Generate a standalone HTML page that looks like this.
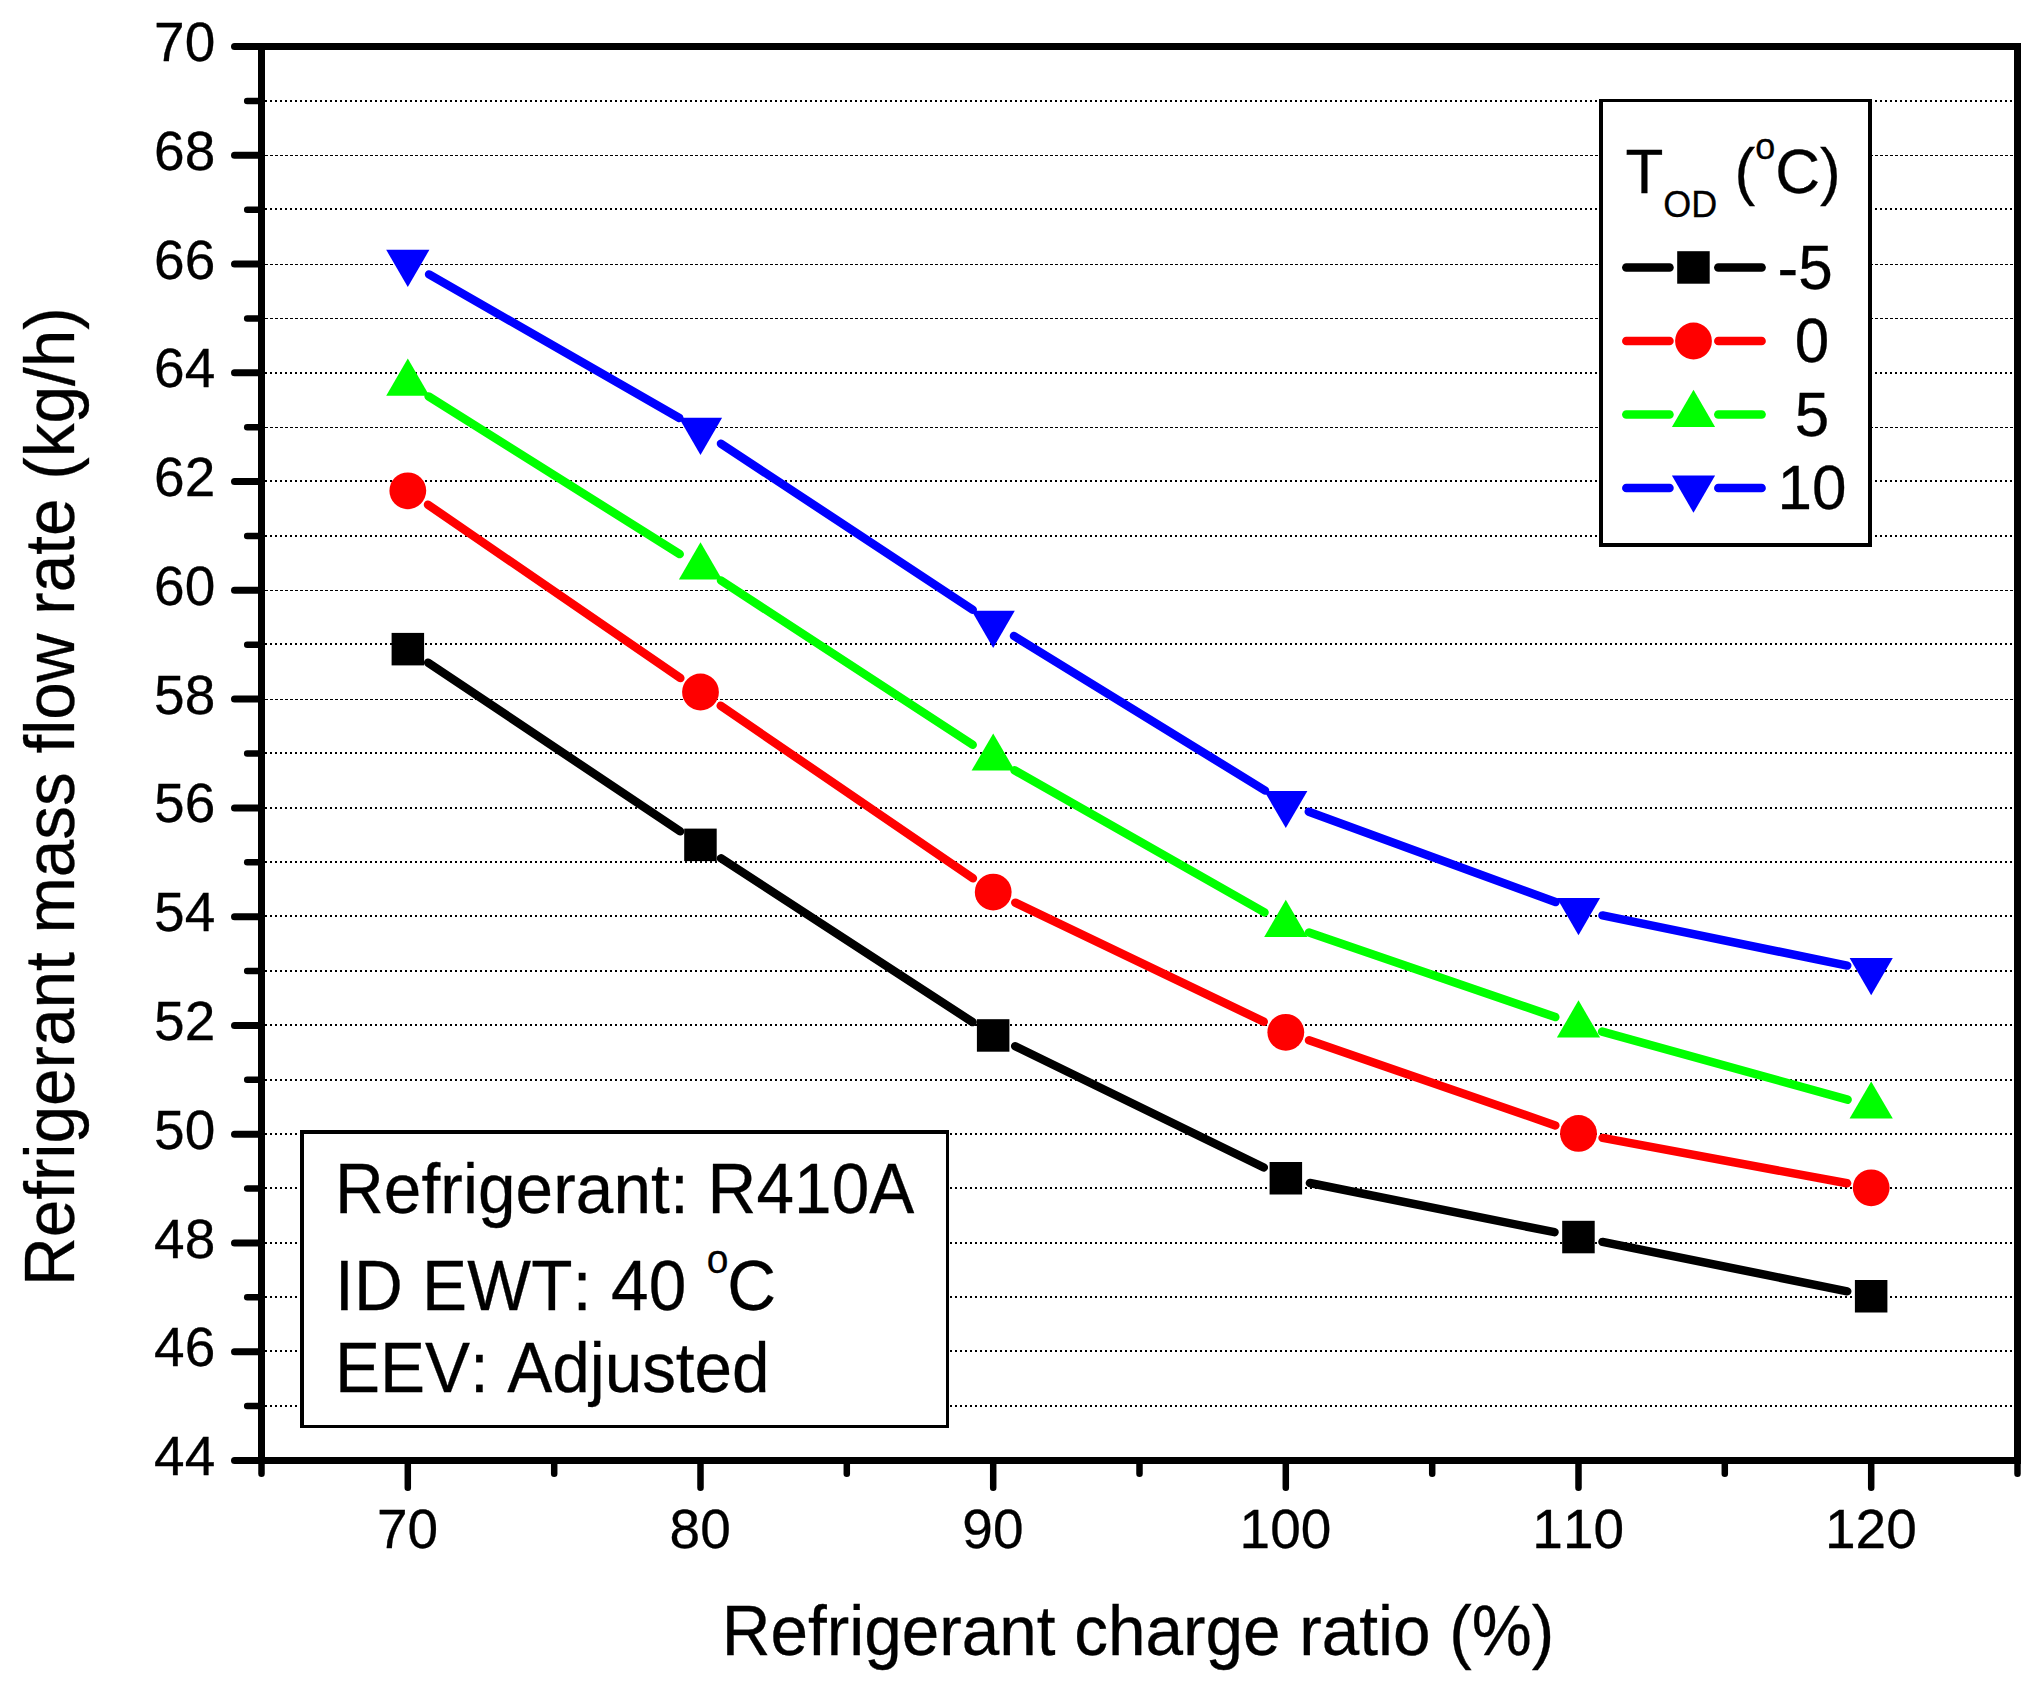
<!DOCTYPE html>
<html lang="en"><head><meta charset="utf-8">
<title>Refrigerant mass flow rate vs refrigerant charge ratio</title>
<style>
html,body{margin:0;padding:0;background:#fff;}
body{width:2041px;height:1688px;overflow:hidden;}
svg{display:block;}
text{font-family:"Liberation Sans", sans-serif;fill:#000;font-kerning:none;stroke:#000;stroke-width:0.3px;}
.tick{font-size:55px;}
.title{font-size:67.5px;letter-spacing:0;}
.box{font-size:67.5px;letter-spacing:0.1px;}
.leg{font-size:62px;}
.sub{font-size:36px;}
.sub2{font-size:39px;}
</style></head><body>
<svg width="2041" height="1688" viewBox="0 0 2041 1688">
<rect x="0" y="0" width="2041" height="1688" fill="#fff"/>
<g stroke="#000" fill="none" shape-rendering="crispEdges">
<line x1="265" x2="2014" y1="1406" y2="1406" stroke-width="2" stroke-dasharray="2.4 2.6"/>
<line x1="265" x2="2014" y1="1351" y2="1351" stroke-width="2" stroke-dasharray="2.4 2.6"/>
<line x1="265" x2="2014" y1="1297" y2="1297" stroke-width="2" stroke-dasharray="2.4 2.6"/>
<line x1="265" x2="2014" y1="1243" y2="1243" stroke-width="2" stroke-dasharray="2.4 2.6"/>
<line x1="265" x2="2014" y1="1188" y2="1188" stroke-width="2" stroke-dasharray="2.4 2.6"/>
<line x1="265" x2="2014" y1="1134" y2="1134" stroke-width="2" stroke-dasharray="2.4 2.6"/>
<line x1="265" x2="2014" y1="1080" y2="1080" stroke-width="2" stroke-dasharray="2.4 2.6"/>
<line x1="265" x2="2014" y1="1025" y2="1025" stroke-width="2" stroke-dasharray="2.4 2.6"/>
<line x1="265" x2="2014" y1="971" y2="971" stroke-width="2" stroke-dasharray="2.4 2.6"/>
<line x1="265" x2="2014" y1="916" y2="916" stroke-width="2" stroke-dasharray="2.4 2.6"/>
<line x1="265" x2="2014" y1="862" y2="862" stroke-width="2" stroke-dasharray="2.4 2.6"/>
<line x1="265" x2="2014" y1="808" y2="808" stroke-width="2" stroke-dasharray="2.4 2.6"/>
<line x1="265" x2="2014" y1="753" y2="753" stroke-width="2" stroke-dasharray="2.4 2.6"/>
<line x1="265" x2="2014" y1="699.5" y2="699.5" stroke-width="1" stroke-dasharray="2.8 2.2"/>
<line x1="265" x2="2014" y1="644" y2="644" stroke-width="2" stroke-dasharray="2.4 2.6"/>
<line x1="265" x2="2014" y1="590.5" y2="590.5" stroke-width="1" stroke-dasharray="2.8 2.2"/>
<line x1="265" x2="2014" y1="536" y2="536" stroke-width="2" stroke-dasharray="2.4 2.6"/>
<line x1="265" x2="2014" y1="481" y2="481" stroke-width="2" stroke-dasharray="2.4 2.6"/>
<line x1="265" x2="2014" y1="427.5" y2="427.5" stroke-width="1" stroke-dasharray="2.8 2.2"/>
<line x1="265" x2="2014" y1="373" y2="373" stroke-width="2" stroke-dasharray="2.4 2.6"/>
<line x1="265" x2="2014" y1="318.5" y2="318.5" stroke-width="1" stroke-dasharray="2.8 2.2"/>
<line x1="265" x2="2014" y1="264.5" y2="264.5" stroke-width="1" stroke-dasharray="2.8 2.2"/>
<line x1="265" x2="2014" y1="209" y2="209" stroke-width="2" stroke-dasharray="2.4 2.6"/>
<line x1="265" x2="2014" y1="155.5" y2="155.5" stroke-width="1" stroke-dasharray="2.8 2.2"/>
<line x1="265" x2="2014" y1="101" y2="101" stroke-width="2" stroke-dasharray="2.4 2.6"/>
</g>
<g stroke="#000000" stroke-width="8.5" stroke-linecap="round" fill="none">
<line x1="428.2" y1="662.7" x2="680.1" y2="831.3"/>
<line x1="721.0" y1="858.3" x2="972.6" y2="1022.1"/>
<line x1="1015.2" y1="1046.2" x2="1263.8" y2="1167.5"/>
<line x1="1309.9" y1="1183.0" x2="1554.5" y2="1232.2"/>
<line x1="1602.5" y1="1241.9" x2="1847.2" y2="1291.3"/>
</g>
<g>
<rect x="391.6" y="632.9" width="32.5" height="32.5" fill="#000000"/>
<rect x="684.2" y="828.6" width="32.5" height="32.5" fill="#000000"/>
<rect x="976.9" y="1019.2" width="32.5" height="32.5" fill="#000000"/>
<rect x="1269.6" y="1162.0" width="32.5" height="32.5" fill="#000000"/>
<rect x="1562.2" y="1220.8" width="32.5" height="32.5" fill="#000000"/>
<rect x="1854.9" y="1280.0" width="32.5" height="32.5" fill="#000000"/>
</g>
<g stroke="#ff0000" stroke-width="8.5" stroke-linecap="round" fill="none">
<line x1="428.0" y1="504.7" x2="680.3" y2="678.1"/>
<line x1="720.7" y1="705.8" x2="972.9" y2="878.3"/>
<line x1="1015.3" y1="902.7" x2="1263.7" y2="1021.7"/>
<line x1="1309.0" y1="1040.3" x2="1555.3" y2="1125.4"/>
<line x1="1602.6" y1="1137.9" x2="1847.1" y2="1183.3"/>
</g>
<g>
<circle cx="407.8" cy="490.8" r="18.4" fill="#ff0000"/>
<circle cx="700.5" cy="692.0" r="18.4" fill="#ff0000"/>
<circle cx="993.2" cy="892.1" r="18.4" fill="#ff0000"/>
<circle cx="1285.8" cy="1032.3" r="18.4" fill="#ff0000"/>
<circle cx="1578.5" cy="1133.4" r="18.4" fill="#ff0000"/>
<circle cx="1871.2" cy="1187.8" r="18.4" fill="#ff0000"/>
</g>
<g stroke="#00ff00" stroke-width="8.5" stroke-linecap="round" fill="none">
<line x1="428.6" y1="396.4" x2="679.7" y2="554.1"/>
<line x1="721.0" y1="580.5" x2="972.7" y2="744.8"/>
<line x1="1014.5" y1="770.3" x2="1264.5" y2="912.4"/>
<line x1="1309.0" y1="932.5" x2="1555.3" y2="1017.1"/>
<line x1="1602.1" y1="1031.6" x2="1847.6" y2="1099.7"/>
</g>
<g>
<polygon points="407.8,358.6 429.4,395.8 386.2,395.8" fill="#00ff00"/>
<polygon points="700.5,542.3 722.1,579.5 678.9,579.5" fill="#00ff00"/>
<polygon points="993.2,733.4 1014.8,770.6 971.6,770.6" fill="#00ff00"/>
<polygon points="1285.8,899.7 1307.4,936.9 1264.2,936.9" fill="#00ff00"/>
<polygon points="1578.5,1000.3 1600.1,1037.5 1556.9,1037.5" fill="#00ff00"/>
<polygon points="1871.2,1081.4 1892.8,1118.6 1849.6,1118.6" fill="#00ff00"/>
</g>
<g stroke="#0000ff" stroke-width="8.5" stroke-linecap="round" fill="none">
<line x1="429.1" y1="274.4" x2="679.3" y2="418.0"/>
<line x1="721.0" y1="443.7" x2="972.7" y2="609.7"/>
<line x1="1014.0" y1="636.0" x2="1265.0" y2="790.5"/>
<line x1="1308.8" y1="811.7" x2="1555.5" y2="902.1"/>
<line x1="1602.5" y1="915.4" x2="1847.2" y2="965.6"/>
</g>
<g>
<polygon points="386.2,249.8 429.4,249.8 407.8,287.0" fill="#0000ff"/>
<polygon points="678.9,417.8 722.1,417.8 700.5,455.0" fill="#0000ff"/>
<polygon points="971.6,610.8 1014.8,610.8 993.2,648.0" fill="#0000ff"/>
<polygon points="1264.2,790.9 1307.4,790.9 1285.8,828.1" fill="#0000ff"/>
<polygon points="1556.9,898.1 1600.1,898.1 1578.5,935.3" fill="#0000ff"/>
<polygon points="1849.6,958.1 1892.8,958.1 1871.2,995.3" fill="#0000ff"/>
</g>
<g stroke="#000" fill="none" stroke-linecap="butt" shape-rendering="crispEdges">
<line x1="258.0" x2="2021.0" y1="46.5" y2="46.5" stroke-width="7"/>
<line x1="258.0" x2="2021.0" y1="1460.5" y2="1460.5" stroke-width="7"/>
<line x1="261.5" x2="261.5" y1="43.0" y2="1464.0" stroke-width="7"/>
<line x1="2017.5" x2="2017.5" y1="43.0" y2="1464.0" stroke-width="7"/>
</g>
<g stroke="#000" fill="none" stroke-linecap="round">
<line x1="234.5" x2="259.0" y1="1460.5" y2="1460.5" stroke-width="7"/>
<line x1="247.2" x2="259.0" y1="1406.1" y2="1406.1" stroke-width="6.5"/>
<line x1="234.5" x2="259.0" y1="1351.7" y2="1351.7" stroke-width="7"/>
<line x1="247.2" x2="259.0" y1="1297.3" y2="1297.3" stroke-width="6.5"/>
<line x1="234.5" x2="259.0" y1="1243.0" y2="1243.0" stroke-width="7"/>
<line x1="247.2" x2="259.0" y1="1188.6" y2="1188.6" stroke-width="6.5"/>
<line x1="234.5" x2="259.0" y1="1134.2" y2="1134.2" stroke-width="7"/>
<line x1="247.2" x2="259.0" y1="1079.8" y2="1079.8" stroke-width="6.5"/>
<line x1="234.5" x2="259.0" y1="1025.4" y2="1025.4" stroke-width="7"/>
<line x1="247.2" x2="259.0" y1="971.0" y2="971.0" stroke-width="6.5"/>
<line x1="234.5" x2="259.0" y1="916.7" y2="916.7" stroke-width="7"/>
<line x1="247.2" x2="259.0" y1="862.3" y2="862.3" stroke-width="6.5"/>
<line x1="234.5" x2="259.0" y1="807.9" y2="807.9" stroke-width="7"/>
<line x1="247.2" x2="259.0" y1="753.5" y2="753.5" stroke-width="6.5"/>
<line x1="234.5" x2="259.0" y1="699.1" y2="699.1" stroke-width="7"/>
<line x1="247.2" x2="259.0" y1="644.7" y2="644.7" stroke-width="6.5"/>
<line x1="234.5" x2="259.0" y1="590.3" y2="590.3" stroke-width="7"/>
<line x1="247.2" x2="259.0" y1="536.0" y2="536.0" stroke-width="6.5"/>
<line x1="234.5" x2="259.0" y1="481.6" y2="481.6" stroke-width="7"/>
<line x1="247.2" x2="259.0" y1="427.2" y2="427.2" stroke-width="6.5"/>
<line x1="234.5" x2="259.0" y1="372.8" y2="372.8" stroke-width="7"/>
<line x1="247.2" x2="259.0" y1="318.4" y2="318.4" stroke-width="6.5"/>
<line x1="234.5" x2="259.0" y1="264.0" y2="264.0" stroke-width="7"/>
<line x1="247.2" x2="259.0" y1="209.7" y2="209.7" stroke-width="6.5"/>
<line x1="234.5" x2="259.0" y1="155.3" y2="155.3" stroke-width="7"/>
<line x1="247.2" x2="259.0" y1="100.9" y2="100.9" stroke-width="6.5"/>
<line x1="234.5" x2="259.0" y1="46.5" y2="46.5" stroke-width="7"/>
<line x1="261.5" x2="261.5" y1="1463.0" y2="1473.7" stroke-width="6.5"/>
<line x1="407.8" x2="407.8" y1="1463.0" y2="1487.7" stroke-width="6.5"/>
<line x1="554.2" x2="554.2" y1="1463.0" y2="1473.7" stroke-width="6.5"/>
<line x1="700.5" x2="700.5" y1="1463.0" y2="1487.7" stroke-width="6.5"/>
<line x1="846.8" x2="846.8" y1="1463.0" y2="1473.7" stroke-width="6.5"/>
<line x1="993.2" x2="993.2" y1="1463.0" y2="1487.7" stroke-width="6.5"/>
<line x1="1139.5" x2="1139.5" y1="1463.0" y2="1473.7" stroke-width="6.5"/>
<line x1="1285.8" x2="1285.8" y1="1463.0" y2="1487.7" stroke-width="6.5"/>
<line x1="1432.2" x2="1432.2" y1="1463.0" y2="1473.7" stroke-width="6.5"/>
<line x1="1578.5" x2="1578.5" y1="1463.0" y2="1487.7" stroke-width="6.5"/>
<line x1="1724.8" x2="1724.8" y1="1463.0" y2="1473.7" stroke-width="6.5"/>
<line x1="1871.2" x2="1871.2" y1="1463.0" y2="1487.7" stroke-width="6.5"/>
<line x1="2017.5" x2="2017.5" y1="1463.0" y2="1473.7" stroke-width="6.5"/>
</g>
<text class="tick" text-anchor="end" transform="translate(215.3 1475.0) scale(1 1.025)">44</text>
<text class="tick" text-anchor="end" transform="translate(215.3 1366.2) scale(1 1.025)">46</text>
<text class="tick" text-anchor="end" transform="translate(215.3 1257.5) scale(1 1.025)">48</text>
<text class="tick" text-anchor="end" transform="translate(215.3 1148.7) scale(1 1.025)">50</text>
<text class="tick" text-anchor="end" transform="translate(215.3 1039.9) scale(1 1.025)">52</text>
<text class="tick" text-anchor="end" transform="translate(215.3 931.2) scale(1 1.025)">54</text>
<text class="tick" text-anchor="end" transform="translate(215.3 822.4) scale(1 1.025)">56</text>
<text class="tick" text-anchor="end" transform="translate(215.3 713.6) scale(1 1.025)">58</text>
<text class="tick" text-anchor="end" transform="translate(215.3 604.8) scale(1 1.025)">60</text>
<text class="tick" text-anchor="end" transform="translate(215.3 496.1) scale(1 1.025)">62</text>
<text class="tick" text-anchor="end" transform="translate(215.3 387.3) scale(1 1.025)">64</text>
<text class="tick" text-anchor="end" transform="translate(215.3 278.5) scale(1 1.025)">66</text>
<text class="tick" text-anchor="end" transform="translate(215.3 169.8) scale(1 1.025)">68</text>
<text class="tick" text-anchor="end" transform="translate(215.3 61.0) scale(1 1.025)">70</text>
<text class="tick" text-anchor="middle" transform="translate(407.5 1548.3) scale(1 1.025)">70</text>
<text class="tick" text-anchor="middle" transform="translate(700.2 1548.3) scale(1 1.025)">80</text>
<text class="tick" text-anchor="middle" transform="translate(992.9 1548.3) scale(1 1.025)">90</text>
<text class="tick" text-anchor="middle" transform="translate(1285.5 1548.3) scale(1 1.025)">100</text>
<text class="tick" text-anchor="middle" transform="translate(1578.2 1548.3) scale(1 1.025)">110</text>
<text class="tick" text-anchor="middle" transform="translate(1870.9 1548.3) scale(1 1.025)">120</text>
<text class="title" transform="translate(721.7 1654.8) scale(1 1.030)">Refrigerant charge ratio (%)</text>
<text class="title" transform="translate(74.0 1286.0) rotate(-90) scale(1 1.030)">Refrigerant mass flow rate (kg/h)</text>
<g shape-rendering="crispEdges">
<rect x="300" y="1130" width="649" height="298" fill="#fff"/>
<rect x="300" y="1130" width="649" height="4" fill="#000"/>
<rect x="300" y="1425" width="649" height="3" fill="#000"/>
<rect x="300" y="1130" width="4" height="298" fill="#000"/>
<rect x="946" y="1130" width="3" height="298" fill="#000"/>
</g>
<text class="box" transform="translate(335.0 1213.0) scale(1 1.030)">Refrigerant: R410A</text>
<text class="box" transform="translate(335.0 1310.0) scale(1 1.030)" style="letter-spacing:0.28px">ID EWT: 40 <tspan class="sub2" dx="1.2" dy="-35.6">o</tspan><tspan dx="-1.5" dy="35.6">C</tspan></text>
<text class="box" transform="translate(335.0 1392.0) scale(1 1.030)" style="letter-spacing:-0.05px">EEV: Adjusted</text>
<g shape-rendering="crispEdges">
<rect x="1599" y="99" width="273" height="448" fill="#fff"/>
<rect x="1599" y="99" width="273" height="3" fill="#000"/>
<rect x="1599" y="543" width="273" height="4" fill="#000"/>
<rect x="1599" y="99" width="4" height="448" fill="#000"/>
<rect x="1868" y="99" width="4" height="448" fill="#000"/>
</g>
<text class="leg" transform="translate(1625.5 193.0) scale(1 1.030)">T<tspan class="sub" dy="23">OD</tspan><tspan dy="-23"> (</tspan><tspan class="sub" dy="-33">o</tspan><tspan dy="33">C)</tspan></text>
<g stroke="#000000" stroke-width="8.5" stroke-linecap="round">
<line x1="1626.3" x2="1669.5" y1="267.5" y2="267.5"/>
<line x1="1718.3" x2="1761.6" y1="267.5" y2="267.5"/>
</g>
<rect x="1677.2" y="251.2" width="32.5" height="32.5" fill="#000000"/>
<text class="leg" transform="translate(1777.6 288.5) scale(1 1.030)">-5</text>
<g stroke="#ff0000" stroke-width="8.5" stroke-linecap="round">
<line x1="1626.3" x2="1669.5" y1="341.0" y2="341.0"/>
<line x1="1718.3" x2="1761.6" y1="341.0" y2="341.0"/>
</g>
<circle cx="1693.5" cy="341.0" r="18.4" fill="#ff0000"/>
<text class="leg" transform="translate(1794.8 362.0) scale(1 1.030)">0</text>
<g stroke="#00ff00" stroke-width="8.5" stroke-linecap="round">
<line x1="1626.3" x2="1669.5" y1="414.5" y2="414.5"/>
<line x1="1718.3" x2="1761.6" y1="414.5" y2="414.5"/>
</g>
<polygon points="1693.5,389.7 1715.1,426.9 1671.9,426.9" fill="#00ff00"/>
<text class="leg" transform="translate(1794.8 435.5) scale(1 1.030)">5</text>
<g stroke="#0000ff" stroke-width="8.5" stroke-linecap="round">
<line x1="1626.3" x2="1669.5" y1="488.0" y2="488.0"/>
<line x1="1718.3" x2="1761.6" y1="488.0" y2="488.0"/>
</g>
<polygon points="1671.9,475.6 1715.1,475.6 1693.5,512.8" fill="#0000ff"/>
<text class="leg" transform="translate(1777.6 509.0) scale(1 1.030)">10</text>
</svg>
</body></html>
